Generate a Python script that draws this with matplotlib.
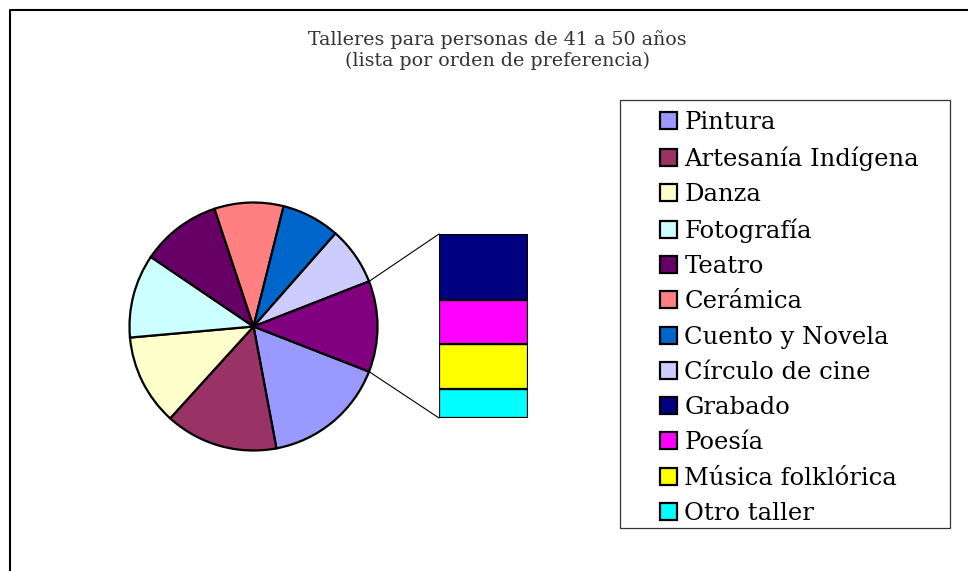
import matplotlib
matplotlib.use("Agg")
import numpy as np
import matplotlib.pyplot as plt
from matplotlib.patches import Rectangle, Patch, ConnectionPatch
from matplotlib.lines import Line2D

plt.rcParams['font.family'] = ['DejaVu Serif']

# main pie (last wedge = group that is broken out into the bar)
pie_labels = ['Pintura', 'Artesanía Indígena', 'Danza', 'Fotografía', 'Teatro',
              'Cerámica', 'Cuento y Novela', 'Círculo de cine']
pie_values = [34, 31, 25, 23, 22, 19, 16, 16]
pie_colors = ['#9999FF', '#993366', '#FFFFCC', '#CCFFFF', '#660066',
              '#FF8080', '#0066CC', '#CCCCFF']
other_color = '#800080'

# secondary bar, top to bottom
bar_labels = ['Grabado', 'Poesía', 'Música folklórica', 'Otro taller']
bar_values = [9, 6, 6, 4]
bar_colors = ['#000080', '#FF00FF', '#FFFF00', '#00FFFF']

legend_labels = pie_labels + bar_labels

W, H = 968, 571
fig = plt.figure(figsize=(W / 100, H / 100), dpi=100)

def px_axes(x0, y0, x1, y1):
    # axes from pixel box (top-left origin)
    return fig.add_axes([x0 / W, 1 - y1 / H, (x1 - x0) / W, (y1 - y0) / H])

# chart border (only top and left visible in the crop)
fig.add_artist(Line2D([10 / W, 10 / W, 1], [0, 1 - 10 / H, 1 - 10 / H],
                      transform=fig.transFigure, color='black', lw=1.5))

fig.text(497 / W, 1 - 40 / H, 'Talleres para personas de 41 a 50 años',
         ha='center', va='center', fontsize=13.7, color='#333333')
fig.text(497 / W, 1 - 61 / H, '(lista por orden de preferencia)',
         ha='center', va='center', fontsize=13.7, color='#333333')

# pie
other_total = sum(bar_values)
vals = pie_values + [other_total]
cols = pie_colors + [other_color]
total = sum(vals)
other_deg = 360 * other_total / total

ax_pie = px_axes(253.5 - 124, 326.5 - 124, 253.5 + 124, 326.5 + 124)
ax_pie.pie(vals, colors=cols, startangle=-other_deg / 2, counterclock=False,
           radius=1, wedgeprops=dict(edgecolor='black', linewidth=1.6))
ax_pie.set_xlim(-1, 1)
ax_pie.set_ylim(-1, 1)
ax_pie.axis('off')

# bar of the "other" group
ax_bar = px_axes(439, 234, 528, 418)
bottom = 0
for v, c in zip(bar_values[::-1], bar_colors[::-1]):
    ax_bar.bar(0, v, bottom=bottom, width=1, color=c, edgecolor='black', linewidth=1.6)
    bottom += v
ax_bar.set_xlim(-0.5, 0.5)
ax_bar.set_ylim(0, other_total)
ax_bar.axis('off')

# connector lines
t = np.deg2rad(other_deg / 2)
for sgn, ytop in [(1, other_total), (-1, 0)]:
    con = ConnectionPatch(xyA=(np.cos(t), sgn * np.sin(t)), coordsA=ax_pie.transData,
                          xyB=(-0.5, ytop), coordsB=ax_bar.transData,
                          color='black', lw=0.8)
    fig.add_artist(con)

# legend
fig.add_artist(Rectangle((620 / W, 1 - 528 / H), 330 / W, 428 / H,
                         transform=fig.transFigure, fill=False,
                         edgecolor='#333333', lw=0.9))
handles = [Patch(facecolor=c, edgecolor='black', linewidth=1.6)
           for c in pie_colors + bar_colors]
fig.legend(handles, legend_labels, loc='upper left',
           bbox_to_anchor=(660 / W, 1 - 111 / H), frameon=False,
           borderpad=0, borderaxespad=0, fontsize=17.5,
           handlelength=0.7, handleheight=0.7, handletextpad=0.3,
           labelspacing=0.505)

fig.savefig('out.png', dpi=100)
